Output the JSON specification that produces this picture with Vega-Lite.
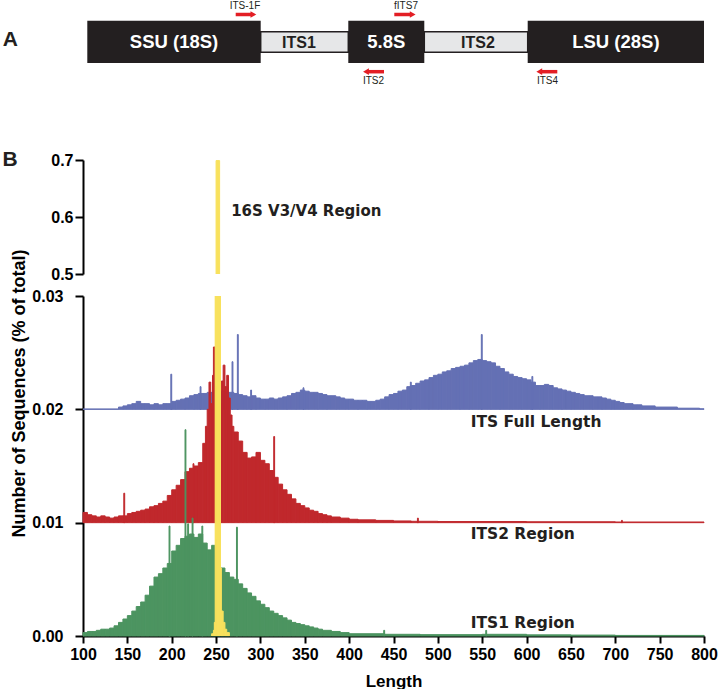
{
"$schema": "https://vega.github.io/schema/vega-lite/v6.json",
"padding": {"left": 2, "top": 0, "right": 0, "bottom": 0},
"background": "white",
"spacing": 22,
"bounds": "flush",
"config": {"view": {"stroke": null}, "font": "Liberation Sans",
  "axis": {"domainColor": "#000", "domainWidth": 2, "tickColor": "#000", "tickWidth": 2, "labelColor": "#000", "labelFont": "Liberation Sans", "labelFontWeight": "bold", "labelFontSize": 16, "titleFont": "Liberation Sans", "titleFontWeight": "bold", "titleColor": "#000", "grid": false}},
"datasets": {"h": [
{"s":"F","a":100,"b":140,"t":0.02003},{"s":"F","a":140,"b":145,"t":0.0202},{"s":"F","a":145,"b":150,"t":0.0203},{"s":"F","a":150,"b":155,"t":0.0204},{"s":"F","a":155,"b":160,"t":0.0205},{"s":"F","a":160,"b":165,"t":0.0207},{"s":"F","a":165,"b":170,"t":0.0205},{"s":"F","a":170,"b":175,"t":0.0205},{"s":"F","a":175,"b":180,"t":0.0204},{"s":"F","a":180,"b":185,"t":0.0205},{"s":"F","a":185,"b":190,"t":0.0204},{"s":"F","a":190,"b":195,"t":0.0205},{"s":"F","a":195,"b":200,"t":0.0205},{"s":"F","a":200,"b":205,"t":0.0207},{"s":"F","a":205,"b":210,"t":0.0208},{"s":"F","a":210,"b":215,"t":0.0209},{"s":"F","a":215,"b":220,"t":0.021},{"s":"F","a":220,"b":225,"t":0.0212},{"s":"F","a":225,"b":230,"t":0.0213},{"s":"F","a":230,"b":235,"t":0.0214},{"s":"F","a":235,"b":240,"t":0.0214},{"s":"F","a":240,"b":245,"t":0.0215},{"s":"F","a":245,"b":250,"t":0.0215},{"s":"F","a":250,"b":255,"t":0.0216},{"s":"F","a":255,"b":260,"t":0.0216},{"s":"F","a":260,"b":265,"t":0.0215},{"s":"F","a":265,"b":270,"t":0.0215},{"s":"F","a":270,"b":275,"t":0.0214},{"s":"F","a":275,"b":280,"t":0.0213},{"s":"F","a":280,"b":285,"t":0.0212},{"s":"F","a":285,"b":290,"t":0.0211},{"s":"F","a":290,"b":295,"t":0.0212},{"s":"F","a":295,"b":300,"t":0.021},{"s":"F","a":300,"b":305,"t":0.0209},{"s":"F","a":305,"b":310,"t":0.0209},{"s":"F","a":310,"b":315,"t":0.021},{"s":"F","a":315,"b":320,"t":0.0209},{"s":"F","a":320,"b":325,"t":0.021},{"s":"F","a":325,"b":330,"t":0.0211},{"s":"F","a":330,"b":335,"t":0.0212},{"s":"F","a":335,"b":340,"t":0.0214},{"s":"F","a":340,"b":345,"t":0.0215},{"s":"F","a":345,"b":350,"t":0.0217},{"s":"F","a":350,"b":355,"t":0.0216},{"s":"F","a":355,"b":360,"t":0.0215},{"s":"F","a":360,"b":365,"t":0.0215},{"s":"F","a":365,"b":370,"t":0.0214},{"s":"F","a":370,"b":375,"t":0.0213},{"s":"F","a":375,"b":380,"t":0.0212},{"s":"F","a":380,"b":385,"t":0.0212},{"s":"F","a":385,"b":390,"t":0.0211},{"s":"F","a":390,"b":395,"t":0.021},{"s":"F","a":395,"b":400,"t":0.0209},{"s":"F","a":400,"b":405,"t":0.0209},{"s":"F","a":405,"b":410,"t":0.0208},{"s":"F","a":410,"b":415,"t":0.0208},{"s":"F","a":415,"b":420,"t":0.0208},{"s":"F","a":420,"b":425,"t":0.0207},{"s":"F","a":425,"b":430,"t":0.0207},{"s":"F","a":430,"b":435,"t":0.0208},{"s":"F","a":435,"b":440,"t":0.0209},{"s":"F","a":440,"b":445,"t":0.0211},{"s":"F","a":445,"b":450,"t":0.0213},{"s":"F","a":450,"b":455,"t":0.0214},{"s":"F","a":455,"b":460,"t":0.0216},{"s":"F","a":460,"b":465,"t":0.0217},{"s":"F","a":465,"b":470,"t":0.022},{"s":"F","a":470,"b":475,"t":0.0221},{"s":"F","a":475,"b":480,"t":0.0223},{"s":"F","a":480,"b":485,"t":0.0225},{"s":"F","a":485,"b":490,"t":0.0226},{"s":"F","a":490,"b":495,"t":0.0228},{"s":"F","a":495,"b":500,"t":0.023},{"s":"F","a":500,"b":505,"t":0.0231},{"s":"F","a":505,"b":510,"t":0.0233},{"s":"F","a":510,"b":515,"t":0.0234},{"s":"F","a":515,"b":520,"t":0.0236},{"s":"F","a":520,"b":525,"t":0.0237},{"s":"F","a":525,"b":530,"t":0.0238},{"s":"F","a":530,"b":535,"t":0.0239},{"s":"F","a":535,"b":540,"t":0.0241},{"s":"F","a":540,"b":545,"t":0.0243},{"s":"F","a":545,"b":550,"t":0.0244},{"s":"F","a":550,"b":555,"t":0.0243},{"s":"F","a":555,"b":560,"t":0.0242},{"s":"F","a":560,"b":565,"t":0.0241},{"s":"F","a":565,"b":570,"t":0.0238},{"s":"F","a":570,"b":575,"t":0.0236},{"s":"F","a":575,"b":580,"t":0.0233},{"s":"F","a":580,"b":585,"t":0.0231},{"s":"F","a":585,"b":590,"t":0.0229},{"s":"F","a":590,"b":595,"t":0.0228},{"s":"F","a":595,"b":600,"t":0.0227},{"s":"F","a":600,"b":605,"t":0.0226},{"s":"F","a":605,"b":610,"t":0.0224},{"s":"F","a":610,"b":615,"t":0.0221},{"s":"F","a":615,"b":620,"t":0.0221},{"s":"F","a":620,"b":625,"t":0.0222},{"s":"F","a":625,"b":630,"t":0.0221},{"s":"F","a":630,"b":635,"t":0.0219},{"s":"F","a":635,"b":640,"t":0.0218},{"s":"F","a":640,"b":645,"t":0.0217},{"s":"F","a":645,"b":650,"t":0.0216},{"s":"F","a":650,"b":655,"t":0.0215},{"s":"F","a":655,"b":660,"t":0.0214},{"s":"F","a":660,"b":665,"t":0.0213},{"s":"F","a":665,"b":670,"t":0.0212},{"s":"F","a":670,"b":675,"t":0.0212},{"s":"F","a":675,"b":680,"t":0.0211},{"s":"F","a":680,"b":685,"t":0.0211},{"s":"F","a":685,"b":690,"t":0.021},{"s":"F","a":690,"b":695,"t":0.0209},{"s":"F","a":695,"b":700,"t":0.0208},{"s":"F","a":700,"b":705,"t":0.0207},{"s":"F","a":705,"b":710,"t":0.0206},{"s":"F","a":710,"b":715,"t":0.0205},{"s":"F","a":715,"b":720,"t":0.0205},{"s":"F","a":720,"b":725,"t":0.0204},{"s":"F","a":725,"b":730,"t":0.0204},{"s":"F","a":730,"b":745,"t":0.0203},{"s":"F","a":745,"b":770,"t":0.0202},{"s":"F","a":770,"b":795,"t":0.0201},{"s":"F","a":795,"b":800,"t":0.02005},
{"s":"F","a":199,"b":200,"t":0.0231},{"s":"F","a":232,"b":233,"t":0.022},{"s":"F","a":268,"b":269,"t":0.0242},{"s":"F","a":274,"b":275,"t":0.0266},{"s":"F","a":289,"b":290,"t":0.0217},{"s":"F","a":348,"b":349,"t":0.0219},{"s":"F","a":469,"b":470,"t":0.0224},{"s":"F","a":549,"b":550,"t":0.0266},{"s":"F","a":606,"b":607,"t":0.0229},
{"s":"R","a":100,"b":105,"t":0.0109},{"s":"R","a":105,"b":110,"t":0.0107},{"s":"R","a":110,"b":115,"t":0.0106},{"s":"R","a":115,"b":120,"t":0.0105},{"s":"R","a":120,"b":125,"t":0.0106},{"s":"R","a":125,"b":130,"t":0.0105},{"s":"R","a":130,"b":135,"t":0.0104},{"s":"R","a":135,"b":140,"t":0.0105},{"s":"R","a":140,"b":145,"t":0.0106},{"s":"R","a":145,"b":150,"t":0.0106},{"s":"R","a":150,"b":155,"t":0.0108},{"s":"R","a":155,"b":160,"t":0.0109},{"s":"R","a":160,"b":165,"t":0.011},{"s":"R","a":165,"b":170,"t":0.0111},{"s":"R","a":170,"b":175,"t":0.0112},{"s":"R","a":175,"b":180,"t":0.0114},{"s":"R","a":180,"b":185,"t":0.0115},{"s":"R","a":185,"b":190,"t":0.0117},{"s":"R","a":190,"b":195,"t":0.0119},{"s":"R","a":195,"b":200,"t":0.0124},{"s":"R","a":200,"b":205,"t":0.0129},{"s":"R","a":205,"b":210,"t":0.0133},{"s":"R","a":210,"b":215,"t":0.0138},{"s":"R","a":215,"b":220,"t":0.0145},{"s":"R","a":220,"b":225,"t":0.0148},{"s":"R","a":225,"b":230,"t":0.015},{"s":"R","a":230,"b":235,"t":0.0153},{"s":"R","a":235,"b":238,"t":0.017},{"s":"R","a":238,"b":240,"t":0.0185},{"s":"R","a":240,"b":242,"t":0.02},{"s":"R","a":242,"b":244,"t":0.0224},{"s":"R","a":244,"b":246,"t":0.0205},{"s":"R","a":246,"b":247,"t":0.023},{"s":"R","a":247,"b":249,"t":0.0255},{"s":"R","a":249,"b":251,"t":0.022},{"s":"R","a":251,"b":254,"t":0.021},{"s":"R","a":254,"b":256,"t":0.0205},{"s":"R","a":256,"b":258,"t":0.0225},{"s":"R","a":258,"b":260,"t":0.0239},{"s":"R","a":260,"b":262,"t":0.022},{"s":"R","a":262,"b":264,"t":0.023},{"s":"R","a":264,"b":266,"t":0.021},{"s":"R","a":266,"b":268,"t":0.0195},{"s":"R","a":268,"b":270,"t":0.0185},{"s":"R","a":270,"b":275,"t":0.018},{"s":"R","a":275,"b":280,"t":0.0172},{"s":"R","a":280,"b":285,"t":0.0162},{"s":"R","a":285,"b":290,"t":0.0157},{"s":"R","a":290,"b":295,"t":0.0158},{"s":"R","a":295,"b":300,"t":0.0162},{"s":"R","a":300,"b":305,"t":0.0155},{"s":"R","a":305,"b":310,"t":0.0152},{"s":"R","a":310,"b":315,"t":0.0146},{"s":"R","a":315,"b":320,"t":0.014},{"s":"R","a":320,"b":325,"t":0.0134},{"s":"R","a":325,"b":330,"t":0.0129},{"s":"R","a":330,"b":335,"t":0.0125},{"s":"R","a":335,"b":340,"t":0.0121},{"s":"R","a":340,"b":345,"t":0.0117},{"s":"R","a":345,"b":350,"t":0.0115},{"s":"R","a":350,"b":355,"t":0.0113},{"s":"R","a":355,"b":360,"t":0.0111},{"s":"R","a":360,"b":365,"t":0.011},{"s":"R","a":365,"b":370,"t":0.0108},{"s":"R","a":370,"b":375,"t":0.0107},{"s":"R","a":375,"b":380,"t":0.0106},{"s":"R","a":380,"b":390,"t":0.0105},{"s":"R","a":390,"b":400,"t":0.0104},{"s":"R","a":400,"b":410,"t":0.0103},{"s":"R","a":410,"b":430,"t":0.01025},{"s":"R","a":430,"b":450,"t":0.0102},{"s":"R","a":450,"b":470,"t":0.01015},{"s":"R","a":470,"b":500,"t":0.01012},{"s":"R","a":500,"b":600,"t":0.0101},{"s":"R","a":600,"b":700,"t":0.01008},{"s":"R","a":700,"b":800,"t":0.01006},
{"s":"R","a":146,"b":147,"t":0.0126},{"s":"R","a":224,"b":225,"t":0.0152},{"s":"R","a":315,"b":316,"t":0.0176},{"s":"R","a":477,"b":478,"t":0.0104},{"s":"R","a":707,"b":708,"t":0.0102},
{"s":"G","a":100,"b":105,"t":0.0003},{"s":"G","a":105,"b":110,"t":0.0004},{"s":"G","a":110,"b":115,"t":0.0004},{"s":"G","a":115,"b":120,"t":0.0005},{"s":"G","a":120,"b":125,"t":0.0006},{"s":"G","a":125,"b":130,"t":0.0006},{"s":"G","a":130,"b":135,"t":0.0007},{"s":"G","a":135,"b":140,"t":0.0009},{"s":"G","a":140,"b":145,"t":0.0012},{"s":"G","a":145,"b":150,"t":0.0015},{"s":"G","a":150,"b":155,"t":0.0018},{"s":"G","a":155,"b":160,"t":0.0022},{"s":"G","a":160,"b":165,"t":0.0026},{"s":"G","a":165,"b":170,"t":0.003},{"s":"G","a":170,"b":175,"t":0.0036},{"s":"G","a":175,"b":180,"t":0.0044},{"s":"G","a":180,"b":185,"t":0.0052},{"s":"G","a":185,"b":190,"t":0.0055},{"s":"G","a":190,"b":195,"t":0.006},{"s":"G","a":195,"b":200,"t":0.0064},{"s":"G","a":200,"b":205,"t":0.0075},{"s":"G","a":205,"b":210,"t":0.008},{"s":"G","a":210,"b":215,"t":0.0086},{"s":"G","a":215,"b":220,"t":0.0088},{"s":"G","a":220,"b":225,"t":0.009},{"s":"G","a":225,"b":230,"t":0.0087},{"s":"G","a":230,"b":235,"t":0.009},{"s":"G","a":235,"b":240,"t":0.0082},{"s":"G","a":240,"b":245,"t":0.0076},{"s":"G","a":245,"b":250,"t":0.008},{"s":"G","a":250,"b":255,"t":0.0085},{"s":"G","a":255,"b":260,"t":0.006},{"s":"G","a":260,"b":265,"t":0.0056},{"s":"G","a":265,"b":270,"t":0.0052},{"s":"G","a":270,"b":275,"t":0.005},{"s":"G","a":275,"b":280,"t":0.0046},{"s":"G","a":280,"b":285,"t":0.0042},{"s":"G","a":285,"b":290,"t":0.0038},{"s":"G","a":290,"b":295,"t":0.0035},{"s":"G","a":295,"b":300,"t":0.0031},{"s":"G","a":300,"b":305,"t":0.0028},{"s":"G","a":305,"b":310,"t":0.0025},{"s":"G","a":310,"b":315,"t":0.0022},{"s":"G","a":315,"b":320,"t":0.002},{"s":"G","a":320,"b":325,"t":0.0018},{"s":"G","a":325,"b":330,"t":0.0016},{"s":"G","a":330,"b":335,"t":0.0014},{"s":"G","a":335,"b":340,"t":0.0012},{"s":"G","a":340,"b":345,"t":0.0011},{"s":"G","a":345,"b":350,"t":0.001},{"s":"G","a":350,"b":355,"t":0.0009},{"s":"G","a":355,"b":360,"t":0.0008},{"s":"G","a":360,"b":365,"t":0.0007},{"s":"G","a":365,"b":370,"t":0.0006},{"s":"G","a":370,"b":380,"t":0.0005},{"s":"G","a":380,"b":390,"t":0.0004},{"s":"G","a":390,"b":400,"t":0.0003},{"s":"G","a":400,"b":440,"t":0.0002},{"s":"G","a":440,"b":480,"t":0.00015},{"s":"G","a":480,"b":550,"t":0.00012},{"s":"G","a":550,"b":600,"t":0.00015},{"s":"G","a":600,"b":650,"t":0.0001},{"s":"G","a":650,"b":700,"t":0.00008},{"s":"G","a":700,"b":800,"t":0.00005},
{"s":"G","a":197,"b":198,"t":0.0097},{"s":"G","a":215,"b":216,"t":0.0182},{"s":"G","a":218,"b":219,"t":0.0099},{"s":"G","a":223,"b":224,"t":0.0104},{"s":"G","a":234,"b":235,"t":0.0097},{"s":"G","a":273,"b":274,"t":0.0096},{"s":"G","a":439,"b":440,"t":0.0005},{"s":"G","a":554,"b":555,"t":0.0005},
{"s":"Y","a":245,"b":247,"t":0.0002},{"s":"Y","a":247,"b":248,"t":0.0005},{"s":"Y","a":248,"b":249,"t":0.0012},{"s":"Y","a":249,"b":250,"t":0.2},{"s":"Y","a":250,"b":254,"t":0.699},{"s":"Y","a":254,"b":255,"t":0.1},{"s":"Y","a":255,"b":256,"t":0.006},{"s":"Y","a":256,"b":258,"t":0.0022},{"s":"Y","a":258,"b":260,"t":0.0012},{"s":"Y","a":260,"b":262,"t":0.0006},{"s":"Y","a":262,"b":265,"t":0.0003}
]},
"vconcat": [
{
 "width": 621, "height": 138,
 "layer": [
  {"data": {"values": [{"n":"ITS1","a":260.7,"b":348.3},{"n":"ITS2","a":424.3,"b":527.7}]},
   "mark": {"type": "rect", "fill": "#e6e7e8", "stroke": "#231f20", "strokeWidth": 1.5},
   "encoding": {"x": {"field": "a", "type": "quantitative", "scale": {"domain": [83, 704], "nice": false, "zero": false}, "axis": null},
     "x2": {"field": "b"},
     "y": {"datum": 31.7, "type": "quantitative", "scale": {"domain": [138, 0], "nice": false, "zero": false}, "axis": null},
     "y2": {"datum": 52.3}}},
  {"data": {"values": [{"n":"SSU (18S)","a":87.3,"b":260.7,"mid":174},{"n":"5.8S","a":348.3,"b":424.3,"mid":386.3},{"n":"LSU (28S)","a":527.7,"b":704,"mid":615.9}]},
   "layer": [
    {"mark": {"type": "rect", "fill": "#231f20"},
     "encoding": {"x": {"field": "a", "type": "quantitative"}, "x2": {"field": "b"}, "y": {"datum": 20.7, "type": "quantitative"}, "y2": {"datum": 63}}},
    {"mark": {"type": "text", "fill": "#ffffff", "font": "Liberation Sans", "fontWeight": "bold", "fontSize": 18.5, "baseline": "middle", "align": "center"},
     "encoding": {"x": {"field": "mid", "type": "quantitative"}, "y": {"datum": 42, "type": "quantitative"}, "text": {"field": "n"}}}
   ]},
  {"data": {"values": [{"n":"ITS1","mid":299},{"n":"ITS2","mid":478}]},
   "mark": {"type": "text", "fill": "#231f20", "font": "Liberation Sans", "fontWeight": "bold", "fontSize": 16, "baseline": "middle", "align": "center"},
   "encoding": {"x": {"field": "mid", "type": "quantitative"}, "y": {"datum": 43, "type": "quantitative"}, "text": {"field": "n"}}},
  {"data": {"values": [{"p":"ITS-1F","tail":235.7,"end":251,"hd":253.4,"sh":"triangle-right","mid":245,"side":"top"},{"p":"fITS7","tail":394.3,"end":410,"hd":412.7,"sh":"triangle-right","mid":406,"side":"top"},{"p":"ITS2","tail":384,"end":367,"hd":366,"sh":"triangle-left","mid":373.5,"side":"bottom"},{"p":"ITS4","tail":557.3,"end":540,"hd":539.3,"sh":"triangle-left","mid":547.5,"side":"bottom"}]},
   "layer": [
    {"transform": [{"filter": "datum.side === 'top'"}], "mark": {"type": "rule", "color": "#e31e24", "strokeWidth": 3.5},
     "encoding": {"x": {"field": "tail", "type": "quantitative"}, "x2": {"field": "end"}, "y": {"datum": 14.5, "type": "quantitative"}}},
    {"transform": [{"filter": "datum.side === 'bottom'"}], "mark": {"type": "rule", "color": "#e31e24", "strokeWidth": 3.5},
     "encoding": {"x": {"field": "tail", "type": "quantitative"}, "x2": {"field": "end"}, "y": {"datum": 71.7, "type": "quantitative"}}},
    {"transform": [{"filter": "datum.side === 'top'"}], "mark": {"type": "point", "filled": true, "color": "#e31e24", "opacity": 1, "size": 45},
     "encoding": {"x": {"field": "hd", "type": "quantitative"}, "y": {"datum": 14.5, "type": "quantitative"}, "shape": {"field": "sh", "type": "nominal", "scale": null}}},
    {"transform": [{"filter": "datum.side === 'bottom'"}], "mark": {"type": "point", "filled": true, "color": "#e31e24", "opacity": 1, "size": 45},
     "encoding": {"x": {"field": "hd", "type": "quantitative"}, "y": {"datum": 71.7, "type": "quantitative"}, "shape": {"field": "sh", "type": "nominal", "scale": null}}},
    {"transform": [{"filter": "datum.side === 'top'"}], "mark": {"type": "text", "fill": "#231f20", "font": "Liberation Sans", "fontSize": 10, "baseline": "middle", "align": "center"},
     "encoding": {"x": {"field": "mid", "type": "quantitative"}, "y": {"datum": 5.5, "type": "quantitative"}, "text": {"field": "p"}}},
    {"transform": [{"filter": "datum.side === 'bottom'"}], "mark": {"type": "text", "fill": "#231f20", "font": "Liberation Sans", "fontSize": 10, "baseline": "middle", "align": "center"},
     "encoding": {"x": {"field": "mid", "type": "quantitative"}, "y": {"datum": 81, "type": "quantitative"}, "text": {"field": "p"}}}
   ]},
  {"data": {"values": [{"x": 10.3, "t": "A"}]},
   "mark": {"type": "text", "fill": "#231f20", "font": "Liberation Sans", "fontWeight": "bold", "fontSize": 21, "baseline": "middle", "align": "center"},
   "encoding": {"x": {"field": "x", "type": "quantitative"}, "y": {"datum": 39.5, "type": "quantitative"}, "text": {"field": "t"}}}
 ]
},
{
 "width": 621, "height": 114,
 "layer": [
  {"data": {"name": "h"}, "transform": [{"filter": "datum.s === 'Y' && datum.t > 0.5"}],
   "mark": {"type": "rect", "fill": "#f8e15d", "stroke": "#f8e15d", "strokeWidth": 1, "clip": true},
   "encoding": {"x": {"field": "a", "type": "quantitative", "scale": {"domain": [100, 800], "nice": false, "zero": false}, "axis": null},
     "x2": {"field": "b"},
     "y": {"field": "t", "type": "quantitative", "title": null, "scale": {"domain": [0.5, 0.7], "nice": false, "zero": false}, "axis": {"values": [0.5, 0.6, 0.7], "format": ".1f", "tickSize": 8, "labelPadding": 2, "title": null}},
     "y2": {"datum": 0.5}}},
  {"data": {"values": [{"x": 267, "y": 0.6105, "t": "16S V3/V4 Region"}]},
   "mark": {"type": "text", "align": "left", "baseline": "middle", "font": "DejaVu Sans", "fontWeight": "bold", "fontSize": 15, "fill": "#231f20"},
   "encoding": {"x": {"field": "x", "type": "quantitative"}, "y": {"field": "y", "type": "quantitative", "title": null}, "text": {"field": "t"}}},
  {"data": {"values": [{"x": 17.7, "y": 0.7, "t": "B"}]},
   "mark": {"type": "text", "align": "center", "baseline": "middle", "font": "Liberation Sans", "fontWeight": "bold", "fontSize": 21, "fill": "#231f20"},
   "encoding": {"x": {"field": "x", "type": "quantitative"}, "y": {"field": "y", "type": "quantitative", "title": null}, "text": {"field": "t"}}}
 ]
},
{
 "width": 621, "height": 340,
 "layer": [
  {"data": {"name": "h"}, "transform": [{"filter": "datum.s === 'F'"}],
   "mark": {"type": "rect", "fill": "#6470b4", "stroke": "#6470b4", "strokeWidth": 1},
   "encoding": {"x": {"field": "a", "type": "quantitative", "scale": {"domain": [100, 800], "nice": false, "zero": false},
       "axis": {"values": [100,150,200,250,300,350,400,450,500,550,600,650,700,750,800], "tickSize": 7, "labelPadding": 3, "labelFlush": false, "labelOverlap": false, "title": "Length", "titleFontSize": 17, "titlePadding": 11}},
     "x2": {"field": "b"},
     "y": {"field": "t", "type": "quantitative", "scale": {"domain": [0, 0.03], "nice": false, "zero": false},
       "axis": {"values": [0, 0.01, 0.02, 0.03], "format": ".2f", "tickSize": 8, "labelPadding": 12, "title": "Number of Sequences (% of total)", "titleFontSize": 18, "titleX": -55, "titleY": 97, "titleBaseline": "bottom", "titleAlign": "center", "titleAngle": -90}},
     "y2": {"datum": 0.02}}},
  {"data": {"name": "h"}, "transform": [{"filter": "datum.s === 'R'"}],
   "mark": {"type": "rect", "fill": "#c0282c", "stroke": "#c0282c", "strokeWidth": 1},
   "encoding": {"x": {"field": "a", "type": "quantitative"}, "x2": {"field": "b"}, "y": {"field": "t", "type": "quantitative"}, "y2": {"datum": 0.01}}},
  {"data": {"name": "h"}, "transform": [{"filter": "datum.s === 'G'"}],
   "mark": {"type": "rect", "fill": "#4c9460", "stroke": "#4c9460", "strokeWidth": 1},
   "encoding": {"x": {"field": "a", "type": "quantitative"}, "x2": {"field": "b"}, "y": {"field": "t", "type": "quantitative"}, "y2": {"datum": 0}}},
  {"data": {"name": "h"}, "transform": [{"filter": "datum.s === 'Y'"}],
   "mark": {"type": "rect", "fill": "#f8e15d", "stroke": "#f8e15d", "strokeWidth": 1, "clip": true},
   "encoding": {"x": {"field": "a", "type": "quantitative"}, "x2": {"field": "b"}, "y": {"field": "t", "type": "quantitative"}, "y2": {"datum": 0}}},
  {"data": {"values": [{"x": 537, "y": 0.0189, "t": "ITS Full Length"}, {"x": 537, "y": 0.009, "t": "ITS2 Region"}, {"x": 537, "y": 0.00115, "t": "ITS1 Region"}]},
   "mark": {"type": "text", "align": "left", "baseline": "middle", "font": "DejaVu Sans", "fontWeight": "bold", "fontSize": 15.5, "fill": "#231f20"},
   "encoding": {"x": {"field": "x", "type": "quantitative"}, "y": {"field": "y", "type": "quantitative"}, "text": {"field": "t"}}}
 ]
}
]
}
